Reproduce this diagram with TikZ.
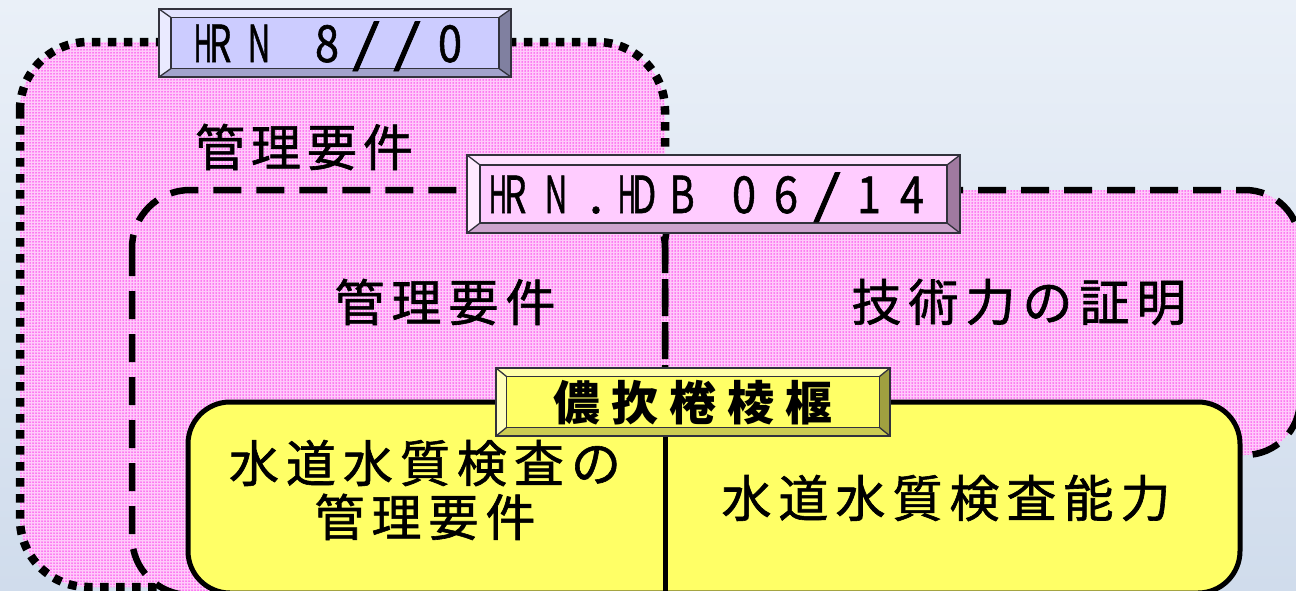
\documentclass[tikz,border=0pt]{standalone}
\usepackage{fontspec}
\usetikzlibrary{patterns.meta}
\newfontfamily\jp{Noto Sans CJK JP}
\newfontfamily\jpheavy[FakeBold=1.2]{Noto Sans CJK JP}
\definecolor{bgtop}{RGB}{234,240,248}
\definecolor{bgbot}{RGB}{208,220,236}
\definecolor{pinkbase}{RGB}{255,202,250}
\definecolor{pinkdot}{RGB}{250,40,232}
\definecolor{edge}{RGB}{50,50,60}
% lavender label
\definecolor{lavface}{RGB}{204,204,255}
\definecolor{lavtop}{RGB}{226,226,255}
\definecolor{lavleft}{RGB}{234,234,255}
\definecolor{lavright}{RGB}{128,128,160}
\definecolor{lavbottom}{RGB}{163,163,204}
% pink label
\definecolor{pnkface}{RGB}{255,204,255}
\definecolor{pnktop}{RGB}{255,226,255}
\definecolor{pnkleft}{RGB}{255,234,255}
\definecolor{pnkright}{RGB}{160,122,160}
\definecolor{pnkbottom}{RGB}{204,163,204}
% yellow label
\definecolor{ylwface}{RGB}{255,255,102}
\definecolor{ylwtop}{RGB}{255,255,170}
\definecolor{ylwleft}{RGB}{255,255,185}
\definecolor{ylwright}{RGB}{160,160,64}
\definecolor{ylwbottom}{RGB}{204,204,82}
\definecolor{ybox}{RGB}{255,255,102}

\ExplSyntaxOn
\NewDocumentCommand\spaced{mm}{\tl_map_inline:nn{#2}{\makebox[#1]{##1}}}
\ExplSyntaxOff
% glyph placed centred at horizontal offset #1, squeezed by #2
\newcommand\gl[3]{\makebox[0pt][l]{\hspace*{#1}\makebox[0pt][c]{\scalebox{#2}[1]{#3}}}}

% bevelled label box: x1 y1 x2 y2 bx by colour-prefix
\newcommand\bevelbox[7]{%
  \fill[#7face] (#1+#5,#2+#6) rectangle (#3-#5,#4-#6);
  \fill[#7top] (#1,#2) -- (#3,#2) -- (#3-#5,#2+#6) -- (#1+#5,#2+#6) -- cycle;
  \fill[#7bottom] (#1,#4) -- (#3,#4) -- (#3-#5,#4-#6) -- (#1+#5,#4-#6) -- cycle;
  \fill[#7left] (#1,#2) -- (#1+#5,#2+#6) -- (#1+#5,#4-#6) -- (#1,#4) -- cycle;
  \fill[#7right] (#3,#2) -- (#3-#5,#2+#6) -- (#3-#5,#4-#6) -- (#3,#4) -- cycle;
  \draw[beveledge] (#1,#2) rectangle (#3,#4);
  \draw[beveledge] (#1+#5,#2+#6) rectangle (#3-#5,#4-#6);
  \draw[beveledge] (#1,#2) -- (#1+#5,#2+#6) (#3,#2) -- (#3-#5,#2+#6)
                   (#1,#4) -- (#1+#5,#4-#6) (#3,#4) -- (#3-#5,#4-#6);
}

\tikzset{
  pinkpat/.style={pattern={Dots[distance=3pt,radius=0.75pt]}, pattern color=pinkdot},
  dotborder/.style={draw=black, line width=8.5pt, dash pattern=on 8.5pt off 7.5pt},
  dashborder/.style={draw=black, line width=6.5pt, dash pattern=on 28pt off 15pt},
  beveledge/.style={draw=edge, line width=1.3pt, line join=miter},
  jptext/.style={font=\jpheavy\fontsize{50}{54}\selectfont, inner sep=0pt, text=black},
  lbltext/.style={font=\jpheavy\fontsize{51}{54}\selectfont, inner sep=0pt, anchor=base, text=black},
  yboxstyle/.style={fill=ybox, draw=black, line width=5pt, rounded corners=42pt},
}

\begin{document}
\begin{tikzpicture}[x=1pt,y=-1pt]
\useasboundingbox (0,0) rectangle (1296,590);
\clip (0,0) rectangle (1296,590);
\shade[top color=bgtop,bottom color=bgbot] (0,0) rectangle (1296,590);

% HRN 8//0 region (dotted)
\fill[pinkbase, rounded corners=68pt] (20,42) rectangle (665,587);
\fill[pinkpat, rounded corners=68pt] (20,42) rectangle (665,587);
\draw[dotborder, rounded corners=68pt] (20,42) rectangle (665,587);

% HRN.HDB 06/14 region (dashed), two parts
\fill[pinkbase, rounded corners=58pt] (132,190) rectangle (665,595);
\fill[pinkpat, rounded corners=58pt] (132,190) rectangle (665,595);
\fill[pinkbase, rounded corners=55pt] (665,190) rectangle (1300,455);
\fill[pinkpat, rounded corners=55pt] (665,190) rectangle (1300,455);
\draw[dashborder, rounded corners=58pt] (132,190) rectangle (665,595);
\draw[dashborder, rounded corners=55pt] (665,190) rectangle (1300,455);

% texts of the pink regions
\node[jptext] (req1) at (304,147) {\spaced{56pt}{管理要件}};
\node[jptext] (req2) at (445,302) {\spaced{57pt}{管理要件}};
\node[jptext] (tech) at (1019,302) {\spaced{57pt}{技術力の証明}};

% label HRN 8//0
\bevelbox{159}{9}{511}{77}{12}{8.5}{lav}
\node[lbltext] (lab1) at (335,62) {\gl{-132pt}{.5}{H}\gl{-115pt}{.7}{R}\gl{-76pt}{.62}{N}\gl{-8pt}{.85}{8}\gl{31pt}{1.4}{/}\gl{72pt}{1.4}{/}\gl{115pt}{.85}{0}};

% label HRN.HDB 06/14
\bevelbox{467}{155}{960}{233}{13}{10}{pnk}
\node[lbltext] (lab2) at (713.5,213) {\gl{-215.5pt}{.5}{H}\gl{-198.5pt}{.7}{R}\gl{-157.5pt}{.62}{N}\gl{-117.5pt}{1}{.}\gl{-86.5pt}{.5}{H}\gl{-69.5pt}{.7}{D}\gl{-31.5pt}{.75}{B}\gl{30.5pt}{.85}{0}\gl{72.5pt}{.85}{6}\gl{113.5pt}{1.4}{/}\gl{155.5pt}{.85}{1}\gl{198.5pt}{.85}{4}};

% yellow box
\path[yboxstyle] (188,402) rectangle (1240,593);
\draw[black, line width=5pt] (665,430) -- (665,600);
\node[jptext, align=center] (water1) at (425,490) {\spaced{57pt}{水道水質検査の}\\\spaced{57pt}{管理要件}};
\node[jptext] (water2) at (946,498) {\spaced{57pt}{水道水質検査能力}};

% yellow label
\bevelbox{496}{368}{890}{436}{10.5}{8.5}{ylw}
\node[jptext, font=\jp\bfseries\fontsize{47}{54}\selectfont] (lab3) at (693,403) {\spaced{58pt}{儂扻棬棱椻}};
\end{tikzpicture}
\end{document}
